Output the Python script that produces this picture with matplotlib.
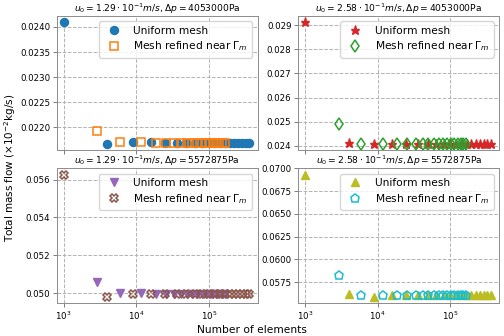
import matplotlib
matplotlib.use("Agg")
import matplotlib.pyplot as plt
from matplotlib.ticker import MultipleLocator, FormatStrFormatter

# Number of elements
x_uniform = [1000, 4000, 9000, 16000, 25000, 36000, 49000, 64000, 81000, 100000,
             121000, 144000, 169000, 196000, 225000, 256000, 289000, 324000, 361000]
x_refined = [2900, 5900, 11700, 18500, 25600, 33500, 41600, 50200, 59500, 69700,
             80100, 91200, 102400, 114200, 126700, 139100, 152100, 165600]

# Panel 1: u0=1.29e-1, dp=4053000
p1_uniform = [0.024093, 0.021662, 0.021714, 0.021714, 0.021694, 0.021688, 0.021686,
              0.021685, 0.021684, 0.021684, 0.021683, 0.021683, 0.021683, 0.021682,
              0.021682, 0.021682, 0.021682, 0.021682, 0.021682]
p1_refined = [0.021932, 0.021702, 0.021714, 0.021694, 0.021690, 0.021687, 0.021685,
              0.021684, 0.021684, 0.021683, 0.021683, 0.021683, 0.021682, 0.021682,
              0.021682, 0.021682, 0.021682, 0.021682]

# Panel 2: u0=2.58e-1, dp=4053000
p2_uniform = [0.029124, 0.024124, 0.024058, 0.024070, 0.024062, 0.024060, 0.024059,
              0.024059, 0.024058, 0.024058, 0.024058, 0.024058, 0.024058, 0.024058,
              0.024058, 0.024058, 0.024058, 0.024058, 0.024058]
p2_refined = [0.024899, 0.024058, 0.024070, 0.024062, 0.024060, 0.024059, 0.024059,
              0.024058, 0.024058, 0.024058, 0.024058, 0.024058, 0.024058, 0.024058,
              0.024058, 0.024058, 0.024058, 0.024058]

# Panel 3: u0=1.29e-1, dp=5572875 (series drawn as in the reference)
p3_uniform = [0.050615, 0.050000, 0.050000, 0.049960, 0.049950, 0.049945, 0.049942,
              0.049940, 0.049940, 0.049939, 0.049939, 0.049938, 0.049938, 0.049938,
              0.049938, 0.049938, 0.049938, 0.049938]
p3_refined = [0.056265, 0.049820, 0.049960, 0.049980, 0.049950, 0.049945, 0.049942,
              0.049940, 0.049940, 0.049939, 0.049939, 0.049938, 0.049938, 0.049938,
              0.049938, 0.049938, 0.049938, 0.049938, 0.049938]

# Panel 4: u0=2.58e-1, dp=5572875
p4_uniform = [0.069335, 0.056150, 0.055900, 0.056060, 0.056040, 0.056035, 0.056032,
              0.056031, 0.056030, 0.056030, 0.056030, 0.056030, 0.056030, 0.056030,
              0.056030, 0.056030, 0.056030, 0.056030, 0.056030]
p4_refined = [0.058270, 0.056040, 0.056060, 0.056040, 0.056035, 0.056032, 0.056031,
              0.056030, 0.056030, 0.056030, 0.056030, 0.056030, 0.056030, 0.056030,
              0.056030, 0.056030, 0.056030, 0.056030]

titles = [r'$u_0 = 1.29\cdot10^{-1}m/s, \Delta p = 4053000$Pa',
          r'$u_0 = 2.58\cdot10^{-1}m/s, \Delta p = 4053000$Pa',
          r'$u_0 = 1.29\cdot10^{-1}m/s, \Delta p = 5572875$Pa',
          r'$u_0 = 2.58\cdot10^{-1}m/s, \Delta p = 5572875$Pa']
label_u = 'Uniform mesh'
label_r = r'Mesh refined near $\Gamma_m$'

plt.rcParams['font.family'] = ['DejaVu Sans']
plt.rcParams['mathtext.fontset'] = 'dejavusans'

fig, axes = plt.subplots(2, 2, figsize=(5.04, 3.36), dpi=100, sharex=True)
fig.subplots_adjust(left=0.113, right=0.990, top=0.952, bottom=0.099,
                    wspace=0.204, hspace=0.134)

ms = 5.8
panels = [
    (axes[0, 0], (x_uniform, p1_uniform, dict(marker='o', color='#1f77b4', ls='none', ms=ms)),
                 (x_refined, p1_refined, dict(marker='s', mfc='none', mec='#ff7f0e', ls='none', ms=ms, mew=1.1)),
     0.0005, '%.4f'),
    (axes[0, 1], (x_uniform, p2_uniform, dict(marker='*', color='#d62728', ls='none', ms=ms + 1)),
                 (x_refined, p2_refined, dict(marker='d', mfc='none', mec='#2ca02c', ls='none', ms=ms + 0.5, mew=1.1)),
     0.001, '%.3f'),
    (axes[1, 0], (x_refined, p3_uniform, dict(marker='v', color='#9467bd', ls='none', ms=ms)),
                 (x_uniform, p3_refined, dict(marker='X', mfc='none', mec='#8c564b', ls='none', ms=ms + 0.5, mew=1.1)),
     0.002, '%.3f'),
    (axes[1, 1], (x_uniform, p4_uniform, dict(marker='^', color='#bcbd22', ls='none', ms=ms)),
                 (x_refined, p4_refined, dict(marker='p', mfc='none', mec='#17becf', ls='none', ms=ms + 0.5, mew=1.1)),
     0.0025, '%.4f'),
]

for (ax, s1, s2, step, fmt), title in zip(panels, titles):
    ax.plot(s1[0], s1[1], label=label_u, **s1[2])
    ax.plot(s2[0], s2[1], label=label_r, **s2[2])
    ax.set_xscale('log')
    ax.set_xlim(810, 4.7e5)
    ax.yaxis.set_major_locator(MultipleLocator(step))
    ax.yaxis.set_major_formatter(FormatStrFormatter(fmt))
    ax.grid(True, which='major', linestyle='--', color='0.7', linewidth=0.7)
    ax.tick_params(labelsize=6.2, length=3, width=0.6, color='0.4', pad=2)
    ax.tick_params(which='minor', length=0)
    for sp in ax.spines.values():
        sp.set_color('0.55')
        sp.set_linewidth(0.7)
    ax.set_title(title, fontsize=6.6, pad=2.5)
    ax.legend(loc='upper right', fontsize=7.7, handletextpad=0.8, borderpad=0.4,
              labelspacing=0.35, framealpha=0.8, edgecolor='0.8')

fig.text(0.5, 0.004, 'Number of elements', ha='center', va='bottom', fontsize=7.7)
fig.text(0.004, 0.5, r'Total mass flow ($\times10^{-2}$kg/s)', rotation=90,
         ha='left', va='center', fontsize=7.5)

fig.savefig('out.png', dpi=100)
